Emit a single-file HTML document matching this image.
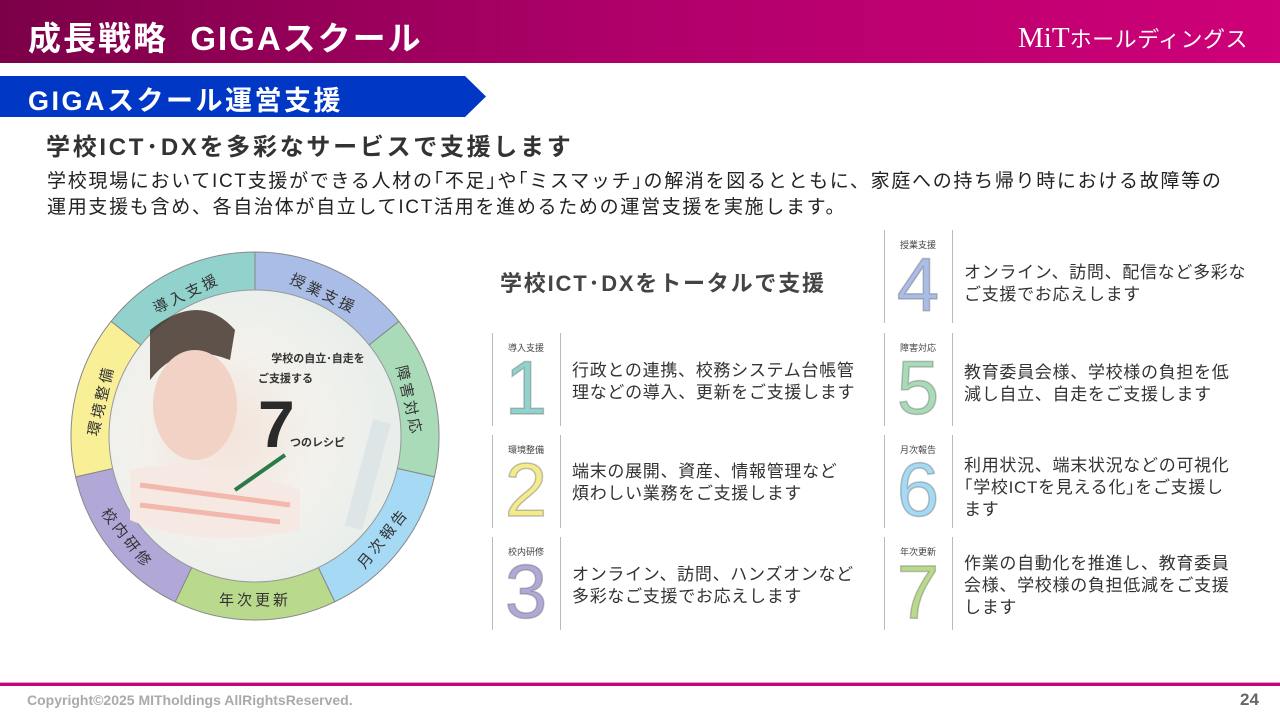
<!DOCTYPE html>
<html><head><meta charset="utf-8"><style>
*{margin:0;padding:0;box-sizing:border-box}
body{width:1280px;height:720px;position:relative;background:#fff;font-family:"Liberation Sans","Noto Sans CJK JP",sans-serif;color:#333;overflow:hidden}
.abs{position:absolute;white-space:nowrap}
.hdr{left:0;top:0;width:1280px;height:63px;background:linear-gradient(90deg,#7c0048,#b0006a 50%,#cf0078)}
.item{position:absolute;height:93px}
.item .l1{position:absolute;left:0;top:0;width:1px;height:100%;background:#bbb}
.item .l2{position:absolute;left:68px;top:0;width:1px;height:100%;background:#bbb}
.item .lab{position:absolute;left:0;width:68px;top:8px;text-align:center;font-size:9px;color:#444}
.item .num{position:absolute;left:0;width:68px;top:16px;text-align:center;font-size:76px;line-height:80px;font-family:"Liberation Sans",sans-serif;-webkit-text-stroke:1.5px rgba(90,90,90,.35)}
.item .txt{position:absolute;left:80px;font-size:17px;line-height:22px;color:#333;white-space:nowrap;letter-spacing:0.7px}
</style></head><body>
<div class="abs hdr"></div>
<div class="abs" style="left:28px;top:12px;font-size:33px;font-weight:bold;color:#fff;letter-spacing:2px">成長戦略&nbsp;&nbsp;GIGAスクール</div>
<div class="abs" style="left:1018px;top:20px;color:#fff;font-family:'Liberation Serif','Noto Serif CJK SC',serif;font-size:29px;line-height:36px">MiT<span style="font-family:'Liberation Sans','Noto Sans CJK JP',sans-serif;font-size:22px;letter-spacing:0.5px">ホールディングス</span></div>
<svg class="abs" style="left:0;top:76px" width="490" height="42"><polygon points="0,0 465,0 486,20.5 465,41 0,41" fill="#0037c4"/></svg>
<div class="abs" style="left:28px;top:79px;font-size:27px;font-weight:bold;color:#fff;letter-spacing:2.5px">GIGAスクール運営支援</div>
<div class="abs" style="left:46px;top:127px;font-size:24px;font-weight:bold;color:#333;letter-spacing:2.7px">学校ICT･DXを多彩なサービスで支援します</div>
<div class="abs" style="left:47px;top:169px;font-size:19px;line-height:26px;color:#222;letter-spacing:1.7px">学校現場においてICT支援ができる人材の｢不足｣や｢ミスマッチ｣の解消を図るとともに、家庭への持ち帰り時における故障等の<br>運用支援も含め、各自治体が自立してICT活用を進めるための運営支援を実施します。</div>

<svg class="abs" style="left:0;top:0" width="520" height="660" font-family="Liberation Sans,Noto Sans CJK JP,sans-serif">
<defs>
<radialGradient id="ph" cx="0.4" cy="0.5" r="0.6">
<stop offset="0" stop-color="#f3e3da"/><stop offset="0.5" stop-color="#f3f1ec"/><stop offset="1" stop-color="#e8eeeb"/></radialGradient>
</defs>
<g stroke="#888" stroke-width="1">
<path d="M255,436 L255,252 A184,184 0 0 1 398.9,321.3 Z" fill="#a9bde6"/>
<path d="M255,436 L398.9,321.3 A184,184 0 0 1 434.4,476.9 Z" fill="#a9dbb9"/>
<path d="M255,436 L434.4,476.9 A184,184 0 0 1 334.8,601.8 Z" fill="#a6d9f4"/>
<path d="M255,436 L334.8,601.8 A184,184 0 0 1 175.2,601.8 Z" fill="#b9da8c"/>
<path d="M255,436 L175.2,601.8 A184,184 0 0 1 75.6,476.9 Z" fill="#b1a8d8"/>
<path d="M255,436 L75.6,476.9 A184,184 0 0 1 111.1,321.3 Z" fill="#f8ef96"/>
<path d="M255,436 L111.1,321.3 A184,184 0 0 1 255,252 Z" fill="#91d3cc"/>
</g>
<circle cx="255" cy="436" r="146" fill="url(#ph)" stroke="#999"/>
<path d="M150,330 Q200,290 235,330 L230,360 Q180,340 150,380 Z" fill="#3a2a22" opacity=".8"/>
<ellipse cx="195" cy="405" rx="42" ry="55" fill="#f1d2c4"/>
<path d="M130,470 Q200,455 300,490 L300,530 Q200,550 130,520 Z" fill="#f6e8e3"/>
<path d="M140,485 L290,505 M140,505 L280,522" stroke="#f2b8ac" stroke-width="5"/>
<line x1="235" y1="490" x2="285" y2="455" stroke="#2a7a4a" stroke-width="4"/>
<rect x="360" y="420" width="18" height="110" fill="#dde5e7" transform="rotate(15 370 470)"/>
<text x="318" y="362" font-size="11" font-weight="bold" fill="#333" text-anchor="middle">学校の自立･自走を</text>
<text x="258" y="382" font-size="11" font-weight="bold" fill="#333">ご支援する</text>
<text x="258" y="447" font-size="66" font-weight="bold" fill="#2a2a2a">7</text>
<text x="290" y="446" font-size="11" font-weight="bold" fill="#333">つのレシピ</text>
<g font-size="15" fill="#333" text-anchor="middle" letter-spacing="3">
<text transform="translate(255,436) rotate(25.7) translate(0,-158)" dy="5">授業支援</text>
<text transform="translate(255,436) rotate(-25.7) translate(0,-158)" dy="5">導入支援</text>
<text transform="translate(255,436) rotate(77.1) translate(0,-158)" dy="5">障害対応</text>
<text transform="translate(255,436) rotate(-77.1) translate(0,-158)" dy="5">環境整備</text>
<text transform="translate(255,436) rotate(-51.4) translate(0,164)" dy="5">月次報告</text>
<text transform="translate(255,436) rotate(51.4) translate(0,164)" dy="5">校内研修</text>
<text transform="translate(255,436) translate(0,164)" dy="5">年次更新</text>
</g>
</svg>

<div class="abs" style="left:500px;top:266px;font-size:22px;font-weight:bold;color:#444;letter-spacing:1.8px">学校ICT･DXをトータルで支援</div>

<div class="item" style="left:492px;top:333px"><div class="l1"></div><div class="l2"></div><div class="lab">導入支援</div><div class="num" style="color:#91d3cc">1</div><div class="txt" style="top:27px">行政との連携、校務システム台帳管<br>理などの導入、更新をご支援します</div></div>
<div class="item" style="left:492px;top:435px"><div class="l1"></div><div class="l2"></div><div class="lab">環境整備</div><div class="num" style="color:#f3eb8e">2</div><div class="txt" style="top:26px">端末の展開、資産、情報管理など<br>煩わしい業務をご支援します</div></div>
<div class="item" style="left:492px;top:537px"><div class="l1"></div><div class="l2"></div><div class="lab">校内研修</div><div class="num" style="color:#b1a8d8">3</div><div class="txt" style="top:27px">オンライン、訪問、ハンズオンなど<br>多彩なご支援でお応えします</div></div>
<div class="item" style="left:884px;top:230px"><div class="l1"></div><div class="l2"></div><div class="lab">授業支援</div><div class="num" style="color:#a9bde6">4</div><div class="txt" style="top:32px">オンライン、訪問、配信など多彩な<br>ご支援でお応えします</div></div>
<div class="item" style="left:884px;top:333px"><div class="l1"></div><div class="l2"></div><div class="lab">障害対応</div><div class="num" style="color:#a9dbb9">5</div><div class="txt" style="top:29px">教育委員会様、学校様の負担を低<br>減し自立、自走をご支援します</div></div>
<div class="item" style="left:884px;top:435px"><div class="l1"></div><div class="l2"></div><div class="lab">月次報告</div><div class="num" style="color:#a6d9f4">6</div><div class="txt" style="top:20px">利用状況、端末状況などの可視化<br>｢学校ICTを見える化｣をご支援し<br>ます</div></div>
<div class="item" style="left:884px;top:537px"><div class="l1"></div><div class="l2"></div><div class="lab">年次更新</div><div class="num" style="color:#b9da8c">7</div><div class="txt" style="top:16px">作業の自動化を推進し、教育委員<br>会様、学校様の負担低減をご支援<br>します</div></div>

<div class="abs" style="left:0;top:682px;width:1280px;height:4px;background:#c0087a;border-top:1px solid #e6a0c8"></div>
<div class="abs" style="left:27px;top:692px;font-size:14px;font-weight:bold;color:#aaa">Copyright©2025 MITholdings AllRightsReserved.</div>
<div class="abs" style="left:1240px;top:690px;font-size:17px;font-weight:bold;color:#666">24</div>
</body></html>
